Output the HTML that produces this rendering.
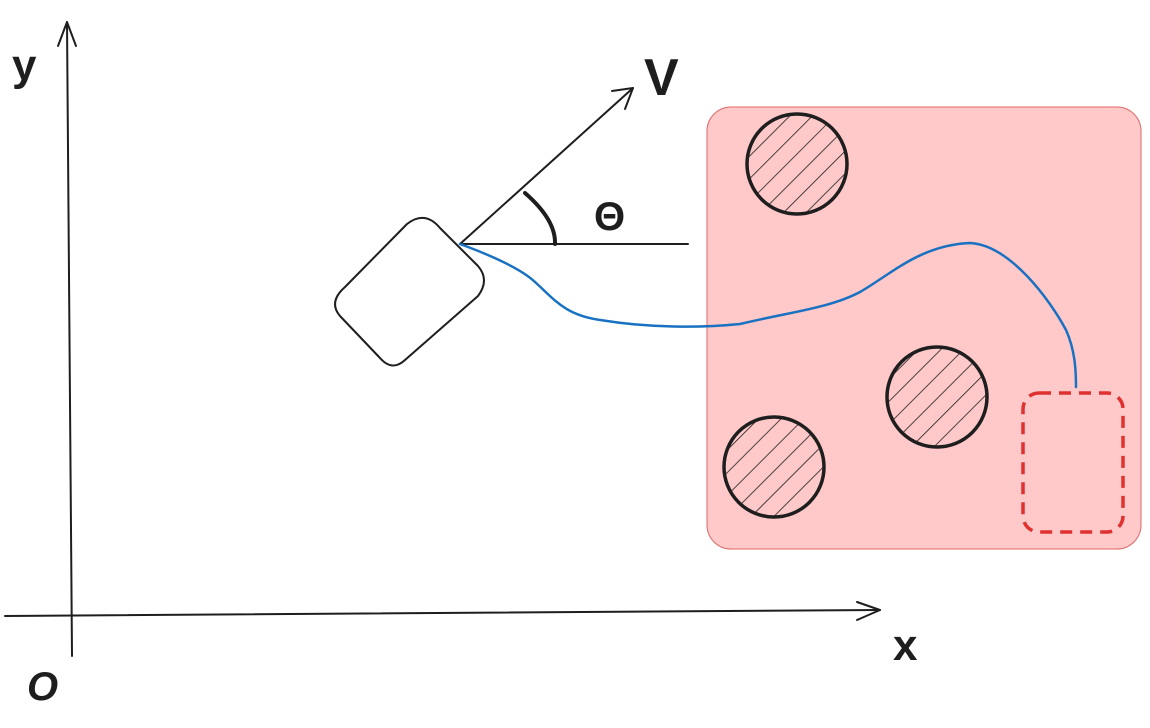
<!DOCTYPE html>
<html><head><meta charset="utf-8"><style>html,body{margin:0;padding:0;background:#fff}svg{display:block}</style></head>
<body>
<svg width="1150" height="728" viewBox="0 0 1150 728" xmlns="http://www.w3.org/2000/svg">
<defs>
<pattern id="h" patternUnits="userSpaceOnUse" width="16" height="16" patternTransform="rotate(45)">
<line x1="0" y1="0" x2="0" y2="16" stroke="#1e1e1e" stroke-width="1.6"/>
</pattern>
</defs>
<rect x="707" y="107" width="434" height="442" rx="24" fill="#ffc9c9" stroke="#e06666" stroke-width="1"/>
<g stroke="#1e1e1e" stroke-width="3.5">
<circle cx="797" cy="164" r="50" fill="url(#h)"/>
<circle cx="937" cy="397" r="50" fill="url(#h)"/>
<circle cx="774" cy="467" r="50" fill="url(#h)"/>
</g>
<rect x="1023" y="393" width="100" height="139" rx="16" fill="none" stroke="#e03131" stroke-width="3.5" stroke-dasharray="12 8"/>
<g stroke="#1e1e1e" stroke-width="2" fill="none" stroke-linecap="round" stroke-linejoin="round">
<path d="M72,656 L67,22"/>
<path d="M58,46 L67,22 L76,46"/>
<path d="M5,616 L880,610"/>
<path d="M857,602 L880,610 L857,620"/>
<path d="M460,244 L633,88"/>
<path d="M612,91 L633,88 L625,109"/>
<path d="M460,244 L688,244"/>
<path d="M345,287 L407,224 Q425,210 440,228 L478,266 Q490,280 478,296 L405,360 Q392,372 380,358 L340,316 Q328,302 345,287 Z"/>
<path d="M525,193 Q556,220 555,244" stroke-width="4"/>
</g>
<path d="M460,244 C490,255 520,268 535,282 C555,300 565,315 600,320 C650,328 700,328 740,324 C790,312 830,308 860,292 C890,275 920,245 970,243 C1010,245 1050,300 1066,330 C1075,350 1076,370 1076,387" fill="none" stroke="#1971c2" stroke-width="2.5" stroke-linecap="round"/>
<g font-family="Liberation Sans, sans-serif" fill="#1e1e1e">
<text x="12" y="80" font-size="44" font-weight="bold">y</text>
<text x="644" y="95" font-size="52" font-weight="bold">V</text>
<text x="594" y="230" font-size="40" font-weight="bold">Θ</text>
<text x="893" y="660" font-size="44" font-weight="bold">x</text>
<text x="27" y="700" font-size="40" font-style="italic" font-weight="bold">O</text>
</g>
</svg>
</body></html>
